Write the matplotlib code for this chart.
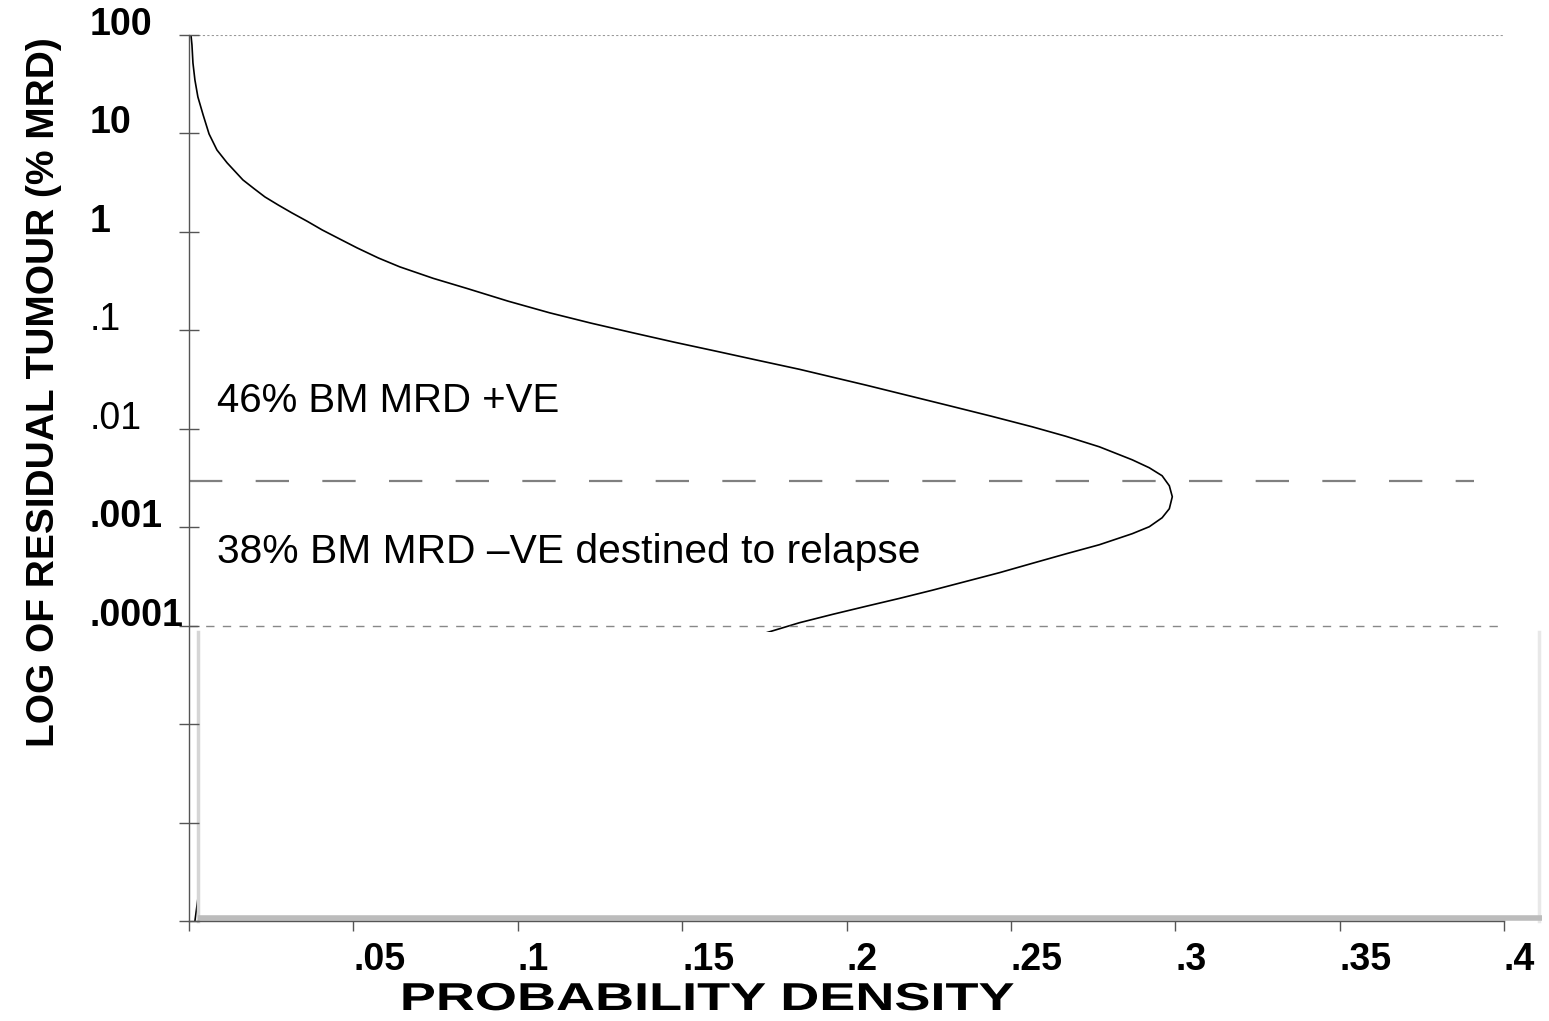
import numpy as np
import matplotlib
matplotlib.use("Agg")
import matplotlib.pyplot as plt
import matplotlib.patheffects as pe
from matplotlib.patches import Rectangle
from matplotlib.transforms import Affine2D

plt.rcParams['font.family'] = ['Liberation Sans', 'DejaVu Sans']

# curve: log10 of residual tumour vs probability density
log_mrd = [2.000, 1.898, 1.716, 1.543, 1.371, 1.188, 0.995, 0.832, 0.701, 0.528,
           0.439, 0.355, 0.272, 0.193, 0.107, 0.020, -0.073, -0.162, -0.265, -0.355,
           -0.472, -0.574, -0.704, -0.822, -0.927, -1.025, -1.121, -1.213, -1.305,
           -1.396, -1.477, -1.558, -1.662, -1.766, -1.871, -1.980, -2.076, -2.183,
           -2.315, -2.396, -2.477, -2.579, -2.690, -2.812, -2.904, -2.995, -3.066,
           -3.178, -3.269, -3.365, -3.462, -3.551, -3.640, -3.723, -3.802, -3.884,
           -3.970, -4.071, -4.5, -5.0, -5.5, -6.0, -6.5, -6.7, -7.0]
density = [0.0006, 0.0009, 0.0012, 0.0018, 0.0027, 0.0043, 0.0061, 0.0085, 0.0116,
           0.0164, 0.0198, 0.0231, 0.0272, 0.0313, 0.0360, 0.0405, 0.0459, 0.0511,
           0.0576, 0.0641, 0.0743, 0.0845, 0.0971, 0.1097, 0.1223, 0.1350, 0.1477,
           0.1605, 0.1731, 0.1857, 0.1959, 0.2061, 0.2187, 0.2313, 0.2439, 0.2565,
           0.2667, 0.2769, 0.2869, 0.2921, 0.2960, 0.2982, 0.2991, 0.2982, 0.2960,
           0.2921, 0.2869, 0.2769, 0.2669, 0.2567, 0.2465, 0.2363, 0.2261, 0.2161,
           0.2061, 0.1959, 0.1857, 0.1757, 0.14, 0.09, 0.05, 0.02, 0.006, 0.003,
           0.0018]

xticks = [0, .05, .1, .15, .2, .25, .3, .35, .4]
xlabels = ['', '.05', '.1', '.15', '.2', '.25', '.3', '.35', '.4']
yticks = [1e-7, 1e-6, 1e-5, 1e-4, 1e-3, 1e-2, 1e-1, 1, 10, 100]
ylabels = ['', '', '', '.0001', '.001', '.01', '.1', '1', '10', '100']
ybold = [True, True, True, True, True, False, False, True, True, True]

cutoff = 10**-2.528       # dashed threshold
detect_limit = 1e-4       # dotted line / box top


class StretchX(pe.AbstractPathEffect):
    """widen text horizontally about a display x position"""
    def __init__(self, sx, cx):
        super().__init__()
        self.sx = sx
        self.cx = cx

    def draw_path(self, renderer, gc, tpath, affine, rgbFace=None):
        aff = affine + Affine2D().translate(-self.cx, 0).scale(self.sx, 1).translate(self.cx, 0)
        renderer.draw_path(gc, tpath, aff, rgbFace)


fig = plt.figure(figsize=(15.49, 10.21), dpi=100)
ax = fig.add_axes([189/1549, 1-921/1021, (1504-189)/1549, (921-35)/1021])
ax.set_yscale('log')
ax.set_xlim(0, 0.4)
ax.set_ylim(1e-7, 100)

ax.plot(density, 10**np.array(log_mrd), color='black', lw=1.2, zorder=2)

ax.axhline(100, color='#999999', lw=0.8, ls=(0, (2, 2)), zorder=2.3)
ax.axhline(detect_limit, color='#888888', lw=1.0, ls=(0, (6, 6)), zorder=2.3)
ax.plot([0, 0.391], [cutoff, cutoff], color='#808080', lw=1.6, ls=(0, (15, 15)), zorder=2)

# white box hiding the lower part of the curve
x0, x1 = 0.0028, 0.4106
ytop = 10**-4.06
ax.add_patch(Rectangle((x0, 1e-7), x1-x0, ytop-1e-7, facecolor='white',
                       edgecolor='none', zorder=2.2, clip_on=False))
ax.plot([x0, x0], [1e-7, ytop], color='#d5d5d5', lw=2.5, zorder=2.25, clip_on=False)
ax.plot([x1, x1], [1e-7, ytop], color='#e8e8e8', lw=2.5, zorder=2.25, clip_on=False)
ax.plot([x0, x1+0.001], [1.08e-7, 1.08e-7], color='#bcbcbc', lw=4, zorder=2.25,
        clip_on=False, solid_capstyle='butt')

ax.text(0.0085, 0.0149, '46% BM MRD +VE', fontsize=29, va='baseline', ha='left')
ax.text(0.0085, 4.37e-4, '38% BM MRD \u2013VE destined to relapse', fontsize=29.3,
        va='baseline', ha='left')

for s in ['top', 'right']:
    ax.spines[s].set_visible(False)
for s in ['left', 'bottom']:
    ax.spines[s].set_color('#555555')
    ax.spines[s].set_linewidth(1.0)
ax.set_axisbelow(False)

ax.set_xticks(xticks)
ax.set_xticklabels(xlabels, fontsize=27, fontweight='bold', ha='left')
ax.tick_params(axis='x', direction='out', length=7, width=1, color='#555555', pad=8)
ax.set_yticks(yticks)
ax.minorticks_off()
ax.set_yticklabels(ylabels, fontsize=27, va='baseline', ha='left')
for lab, b in zip(ax.get_yticklabels(), ybold):
    lab.set_fontweight('bold' if b else 'normal')
ax.tick_params(axis='y', direction='inout', length=14, width=1, color='#555555', pad=64.3)

fig.text(44/1549, 1-392/1021, 'LOG OF RESIDUAL TUMOUR (% MRD)', rotation=90,
         fontsize=28, fontweight='bold', ha='center', va='center')
fig.text(707/1549, 1-1000/1021, 'PROBABILITY DENSITY', fontsize=28,
         fontweight='bold', ha='center', va='center',
         path_effects=[StretchX(1.39, 707)])

fig.savefig('out.png', dpi=100)
